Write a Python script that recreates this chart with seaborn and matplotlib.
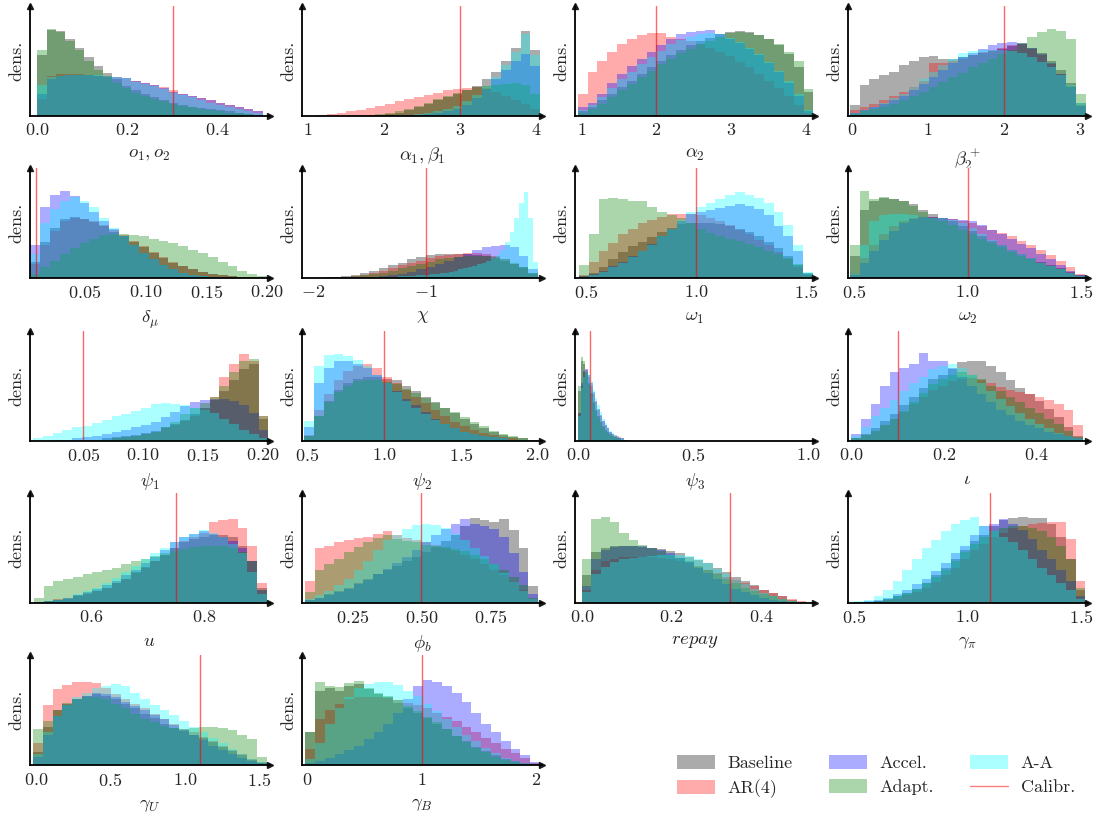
import numpy as np
import pandas as pd
import matplotlib
matplotlib.use("Agg")
import matplotlib.pyplot as plt
import seaborn as sns
from matplotlib.patches import Patch
from matplotlib.lines import Line2D

# ---------------- data (bar heights in % of panel height) ----------------
series_names = ["Baseline", "AR(4)", "Accel.", "Adapt.", "A-A"]
calib_name = "Calibr."

# o1, o2
o12_range = (0.0, 0.5)
o12_calib = 0.3
o12_base = [55,78,77,70,62,53,45,39,33,27,23,20,17,14,12,10,8,7,6,5,4,3,2,1]
o12_ar4 = [15,36,38,38,38,37,36,36,35,34,32,30,28,26,23,20,18,16,14,12,10,8,6,4]
o12_accel = [20,33,36,37,37,37,36,35,35,34,32,30,28,25,22,20,18,16,14,12,10,8,6,4]
o12_adapt = [60,79,76,68,60,50,42,36,30,25,21,18,15,13,11,9,8,6,5,4,3,3,2,1]
o12_aa = [28,35,36,37,37,37,37,36,35,34,31,29,27,24,21,19,17,14,12,10,8,6,4,3]
o12_ticks = ["0.0", "0.2", "0.4"]

# alpha1, beta1
a1_range = (1.0, 4.05)
a1_calib = 3.0
a1_base = [0,0,0,0,0,0,1,1,2,3,5,8,11,14,17,20,23,27,33,40,50,62,77,60]
a1_ar4 = [0,1,2,3,4,5,7,9,11,13,15,17,19,21,23,24,25,26,25,22,18,14,11,6]
a1_accel = [0,0,0,0,0,0,0,0,0,0,1,1,2,3,4,6,10,16,24,33,42,50,56,45]
a1_adapt = [0,0,0,0,0,1,1,2,3,4,6,9,12,15,18,21,23,26,27,28,29,30,28,20]
a1_aa = [0,0,0,0,0,0,0,0,0,1,1,2,3,4,6,9,13,19,26,35,46,58,74,55]
a1_ticks = ["1", "2", "3", "4"]

# alpha2
a2_range = (0.95, 4.1)
a2_calib = 2.0
a2_base = [4,8,14,20,26,32,38,44,50,55,60,64,68,71,74,76,77,76,73,70,64,56,44,22]
a2_ar4 = [20,40,50,58,65,70,73,75,75,72,70,68,65,62,58,54,49,44,38,32,25,18,10,3]
a2_accel = [8,12,20,30,38,45,52,58,64,70,74,76,77,78,74,70,66,61,55,48,40,30,18,4]
a2_adapt = [3,6,11,17,23,29,35,41,47,52,57,61,65,68,72,75,76,75,73,70,65,58,50,24]
a2_aa = [5,10,17,25,33,40,47,53,59,65,69,72,74,75,74,71,67,62,56,49,41,32,20,5]
a2_ticks = ["1", "2", "3", "4"]

# beta2+
b2_range = (-0.03, 3.08)
b2_calib = 2.0
b2_base = [10,28,33,37,40,46,50,53,54,52,52,53,55,57,59,61,63,65,62,57,50,42,30,12]
b2_ar4 = [5,8,11,14,18,22,26,32,48,48,50,52,55,58,60,62,64,65,61,55,47,38,27,10]
b2_accel = [3,5,8,11,14,18,23,29,35,42,48,53,57,61,64,66,67,66,62,56,48,38,26,9]
b2_adapt = [2,4,6,8,11,14,18,22,26,31,35,39,44,48,52,56,60,66,72,76,79,77,70,20]
b2_aa = [3,5,8,12,16,20,26,33,40,46,52,57,59,60,60,60,59,57,53,49,44,37,28,12]
b2_ticks = ["0", "1", "2", "3"]

# delta_mu
dm_range = (0.005, 0.2)
dm_calib = 0.01
dm_base = [15,33,46,54,56,54,51,47,42,38,33,28,23,18,14,11,8,6,4,3,2,1,1,0]
dm_ar4 = [13,30,43,52,55,54,52,48,44,39,34,29,24,19,15,11,8,6,4,3,2,1,1,0]
dm_accel = [30,65,76,79,75,68,60,52,45,38,30,23,17,12,8,5,3,2,1,1,0,0,0,0]
dm_adapt = [4,10,16,22,27,32,36,39,40,40,39,38,36,34,32,29,26,23,19,15,11,7,4,2]
dm_aa = [22,50,63,70,74,70,65,55,46,38,30,23,17,12,8,5,3,2,1,1,0,0,0,0]
dm_ticks = ["0.05", "0.10", "0.15", "0.20"]

# chi
chi_range = (-2.0, 0.0)
chi_calib = -1.0
chi_base = [0,1,1,2,3,5,7,9,12,14,17,19,21,22,22,22,22,21,20,18,16,13,10,5]
chi_ar4 = [0,0,1,1,2,3,5,7,9,12,14,16,18,20,21,22,23,23,22,20,17,13,9,4]
chi_accel = [0,0,0,0,0,1,1,2,3,4,6,8,10,13,16,19,22,26,28,29,30,28,20,8]
chi_adapt = [0,0,1,1,2,3,4,5,7,9,11,13,15,17,18,19,20,20,20,19,17,14,10,5]
chi_aa = [0,0,0,0,0,0,0,0,0,0,0,0,1,1,1,1,1,1,2,2,2,2,3,3,
          3,4,4,5,5,6,7,8,9,10,11,13,14,16,18,21,26,33,42,55,68,78,55,15]
chi_ticks = ["-2", "-1"]

# omega1
w1_range = (0.47, 1.53)
w1_calib = 1.0
w1_base = [2,5,10,17,24,29,33,37,42,46,49,50,50,50,49,47,45,42,38,33,27,20,12,4]
w1_ar4 = [3,15,25,32,40,45,50,53,56,58,58,58,57,55,52,48,44,40,35,30,24,17,10,3]
w1_accel = [2,4,7,11,15,20,25,31,38,45,52,58,60,62,64,66,67,66,63,57,47,38,25,5]
w1_adapt = [12,40,72,73,72,70,70,65,60,57,55,50,45,41,38,36,34,31,28,25,22,18,13,5]
w1_aa = [1,3,6,10,14,19,25,30,38,45,53,60,65,68,72,76,78,76,73,68,60,48,30,6]
w1_ticks = ["0.5", "1.0", "1.5"]

# omega2
w2_range = (0.48, 1.52)
w2_calib = 1.0
w2_base = [20,62,70,73,72,70,67,62,58,55,52,47,43,38,34,30,26,22,18,15,12,9,6,3]
w2_ar4 = [5,18,30,40,47,52,55,56,56,55,54,52,50,47,44,41,38,34,30,26,21,16,10,4]
w2_accel = [3,14,25,35,43,50,54,56,56,55,54,53,52,48,44,40,36,31,27,22,17,12,7,3]
w2_adapt = [30,79,72,74,72,70,66,60,55,52,48,44,40,36,32,28,24,20,17,14,11,8,5,2]
w2_aa = [5,30,52,57,58,58,57,56,55,55,53,50,46,40,35,30,26,22,18,14,11,8,5,2]
w2_ticks = ["0.5", "1.0", "1.5"]

# psi1
p1_range = (0.008, 0.205)
p1_calib = 0.05
p1_base = [0,0,0,0,0,1,1,2,3,4,5,7,9,12,15,19,24,30,37,45,55,65,70,20]
p1_ar4 = [0,0,0,0,0,1,1,1,2,3,4,6,8,11,14,18,22,28,40,58,70,79,72,22]
p1_accel = [0,0,1,1,2,3,4,6,8,10,12,14,17,21,26,31,35,37,38,38,36,32,25,10]
p1_adapt = [0,0,0,0,0,0,1,1,2,3,4,6,8,12,17,24,30,34,40,50,62,72,74,22]
p1_aa = [2,4,7,10,12,13,16,19,22,24,27,30,33,34,33,32,30,28,25,20,15,10,6,2]
p1_ticks = ["0.05", "0.10", "0.15", "0.20"]

# psi2
p2_range = (0.48, 2.0)
p2_calib = 1.0
p2_base = [4,22,36,46,52,56,58,58,56,55,50,45,40,35,30,25,20,15,11,8,5,3,2,1]
p2_ar4 = [5,28,42,55,63,68,70,66,58,52,46,40,34,28,22,17,13,10,7,5,3,2,1,0]
p2_accel = [12,52,66,72,72,70,66,60,52,45,38,32,26,20,15,11,8,6,4,3,2,1,1,0]
p2_adapt = [4,22,35,44,50,54,55,55,53,51,47,43,39,34,30,26,21,17,13,9,6,4,2,1]
p2_aa = [18,68,78,79,77,73,68,60,52,44,36,30,24,19,15,11,8,6,4,3,2,1,1,0]
p2_ticks = ["0.5", "1.0", "1.5", "2.0"]

# psi3
p3_range = (0.0, 0.25)
p3_calib = 0.05
p3_base = [45,72,70,62,52,43,35,28,22,17,13,10,8,6,4,3,2,2,1,1,0,0,0,0]
p3_ar4 = [25,50,62,64,58,50,42,35,28,22,18,14,11,8,6,5,4,3,2,1,1,1,0,0]
p3_accel = [25,52,63,65,60,52,44,36,29,23,18,14,11,8,6,4,3,2,2,1,1,0,0,0]
p3_adapt = [50,76,72,62,51,42,34,27,21,16,12,9,7,5,4,3,2,1,1,1,0,0,0,0]
p3_aa = [22,48,58,62,60,54,46,39,32,26,20,16,12,9,7,5,3,2,2,1,1,0,0,0]
p3_ticks = ["0.0", "0.5", "1.0"]

# iota
io_range = (0.0, 0.5)
io_calib = 0.1
io_base = [2,6,11,18,24,32,40,48,56,60,65,71,72,72,68,62,55,48,42,36,29,21,12,4]
io_ar4 = [2,5,9,14,20,26,33,40,46,50,54,56,57,55,52,49,46,44,42,40,37,33,28,14]
io_accel = [6,20,33,50,62,66,70,80,72,72,66,58,50,42,35,28,23,18,14,11,8,6,4,2]
io_adapt = [2,5,9,14,20,27,35,43,51,56,60,62,60,56,50,45,40,35,30,25,20,15,9,3]
io_aa = [4,12,22,30,37,45,52,58,65,68,70,66,60,52,45,38,31,25,20,15,11,7,4,2]
io_ticks = ["0.0", "0.2", "0.4"]

# u
u_range = (0.5, 0.91)
u_calib = 0.75
u_base = [1,2,3,4,6,8,11,14,18,22,28,33,38,44,50,55,58,60,62,62,60,52,38,14]
u_ar4 = [1,2,4,5,7,9,11,14,18,22,27,32,38,44,50,56,60,64,74,75,76,68,52,18]
u_accel = [1,2,3,5,7,10,13,16,20,25,30,36,42,48,55,60,63,65,63,60,56,50,38,12]
u_adapt = [5,15,20,22,24,26,28,30,32,35,38,40,43,45,47,49,51,52,52,52,50,46,38,12]
u_aa = [1,2,3,5,8,11,14,18,23,28,34,40,45,50,55,60,63,66,64,60,54,45,28,8]
u_ticks = ["0.6", "0.8"]

# phi_b
pb_range = (0.08, 0.92)
pb_calib = 0.5
pb_base = [3,5,8,11,14,18,22,26,30,34,38,42,46,51,56,62,70,77,75,74,76,66,50,15]
pb_ar4 = [20,50,52,55,57,59,60,63,65,62,59,57,55,53,50,47,44,40,35,30,25,19,12,4]
pb_accel = [3,5,7,10,13,17,21,26,31,36,42,48,55,62,67,72,76,72,70,67,60,45,28,8]
pb_adapt = [10,30,35,40,46,51,55,59,62,58,56,55,53,52,51,49,47,44,40,35,30,24,16,5]
pb_aa = [4,7,11,16,22,30,38,48,57,62,67,71,72,71,68,63,57,50,43,35,27,19,11,4]
pb_ticks = ["0.25", "0.50", "0.75"]

# repay
rp_range = (0.0, 0.5)
rp_calib = 0.33
rp_base = [25,46,50,52,52,52,51,50,49,47,45,42,39,36,32,28,24,20,16,12,9,6,3,1]
rp_ar4 = [12,30,38,40,42,42,42,42,41,40,38,36,33,30,27,24,21,18,15,12,9,6,4,2]
rp_accel = [15,40,48,51,52,52,52,50,48,45,41,37,32,27,22,17,13,10,7,5,3,2,1,0]
rp_adapt = [40,76,78,74,64,57,53,50,47,44,41,38,34,30,26,22,18,14,11,8,6,4,2,1]
rp_aa = [10,26,33,37,40,41,42,43,44,44,44,43,40,36,31,26,21,17,13,9,6,4,2,1]
rp_ticks = ["0.0", "0.2", "0.4"]

# gamma_pi
gp_range = (0.5, 1.52)
gp_calib = 1.1
gp_base = [1,1,2,4,6,9,13,18,25,32,40,48,56,62,70,75,77,78,77,77,72,60,40,12]
gp_ar4 = [1,1,2,3,4,7,10,14,19,25,32,40,48,54,60,64,68,70,72,73,74,74,58,20]
gp_accel = [1,2,3,5,8,12,17,22,29,36,45,52,62,70,72,76,72,66,58,48,40,30,20,6]
gp_adapt = [1,1,2,4,6,9,13,18,24,30,38,46,54,60,65,68,70,70,68,65,60,52,40,14]
gp_aa = [2,3,6,12,20,30,40,50,57,65,72,75,78,70,65,60,55,48,40,32,25,18,12,4]
gp_ticks = ["0.5", "1.0", "1.5"]

# gamma_U
gu_range = (-0.02, 1.55)
gu_calib = 1.1
gu_base = [12,35,50,56,60,63,65,63,60,56,52,47,43,38,34,31,28,25,21,17,13,9,5,2]
gu_ar4 = [20,55,69,73,76,76,75,70,65,60,56,52,47,42,38,33,30,26,22,18,14,10,6,3]
gu_accel = [8,28,45,55,60,63,66,65,62,58,54,50,46,42,37,32,28,23,18,14,10,7,4,2]
gu_adapt = [33,40,50,57,60,62,62,60,56,52,47,42,39,36,34,33,34,35,35,34,32,28,24,8]
gu_aa = [10,30,45,55,62,66,70,72,74,72,66,60,55,50,46,40,35,30,25,20,15,10,6,3]
gu_ticks = ["0.0", "0.5", "1.0", "1.5"]

# gamma_B
gb_range = (-0.02, 2.03)
gb_calib = 1.0
gb_base = [30,68,70,68,72,74,69,65,62,57,52,48,43,38,33,27,22,17,13,9,6,4,2,1]
gb_ar4 = [15,42,50,56,60,62,62,62,61,59,57,55,52,48,44,40,35,30,25,20,15,11,7,2]
gb_accel = [2,4,7,10,14,18,24,30,38,48,60,72,78,76,72,66,58,48,38,30,22,15,9,3]
gb_adapt = [30,76,72,71,75,77,70,66,63,59,54,49,44,39,33,27,21,16,12,8,5,3,1,0]
gb_aa = [6,20,38,52,62,70,74,76,76,73,68,63,56,49,42,35,28,22,16,11,7,4,2,1]
gb_ticks = ["0", "1", "2"]

# ---------------- panel table built from the arrays ----------------
panels = [
    (r"$o_1, o_2$", o12_range, o12_calib, [o12_base, o12_ar4, o12_accel, o12_adapt, o12_aa], o12_ticks),
    (r"$\alpha_1, \beta_1$", a1_range, a1_calib, [a1_base, a1_ar4, a1_accel, a1_adapt, a1_aa], a1_ticks),
    (r"$\alpha_2$", a2_range, a2_calib, [a2_base, a2_ar4, a2_accel, a2_adapt, a2_aa], a2_ticks),
    (r"$\beta_2^+$", b2_range, b2_calib, [b2_base, b2_ar4, b2_accel, b2_adapt, b2_aa], b2_ticks),
    (r"$\delta_\mu$", dm_range, dm_calib, [dm_base, dm_ar4, dm_accel, dm_adapt, dm_aa], dm_ticks),
    (r"$\chi$", chi_range, chi_calib, [chi_base, chi_ar4, chi_accel, chi_adapt, chi_aa], chi_ticks),
    (r"$\omega_1$", w1_range, w1_calib, [w1_base, w1_ar4, w1_accel, w1_adapt, w1_aa], w1_ticks),
    (r"$\omega_2$", w2_range, w2_calib, [w2_base, w2_ar4, w2_accel, w2_adapt, w2_aa], w2_ticks),
    (r"$\psi_1$", p1_range, p1_calib, [p1_base, p1_ar4, p1_accel, p1_adapt, p1_aa], p1_ticks),
    (r"$\psi_2$", p2_range, p2_calib, [p2_base, p2_ar4, p2_accel, p2_adapt, p2_aa], p2_ticks),
    (r"$\psi_3$", p3_range, p3_calib, [p3_base, p3_ar4, p3_accel, p3_adapt, p3_aa], p3_ticks),
    (r"$\iota$", io_range, io_calib, [io_base, io_ar4, io_accel, io_adapt, io_aa], io_ticks),
    (r"$u$", u_range, u_calib, [u_base, u_ar4, u_accel, u_adapt, u_aa], u_ticks),
    (r"$\phi_b$", pb_range, pb_calib, [pb_base, pb_ar4, pb_accel, pb_adapt, pb_aa], pb_ticks),
    (r"$repay$", rp_range, rp_calib, [rp_base, rp_ar4, rp_accel, rp_adapt, rp_aa], rp_ticks),
    (r"$\gamma_\pi$", gp_range, gp_calib, [gp_base, gp_ar4, gp_accel, gp_adapt, gp_aa], gp_ticks),
    (r"$\gamma_U$", gu_range, gu_calib, [gu_base, gu_ar4, gu_accel, gu_adapt, gu_aa], gu_ticks),
    (r"$\gamma_B$", gb_range, gb_calib, [gb_base, gb_ar4, gb_accel, gb_adapt, gb_aa], gb_ticks),
]

# ---------------- style / layout ----------------
series_colors = ["black", "red", "blue", "green", "cyan"]
bar_alpha = 0.33
xlims = [(-0.017, 0.515), (0.93, 4.08), (0.91, 4.12), (-0.06, 3.1),
         (0.0044, 0.202), (-2.1, 0.04), (0.45, 1.54), (0.47, 1.53),
         (0.005, 0.206), (0.465, 2.03), (-0.015, 1.03), (-0.008, 0.51),
         (0.492, 0.915), (0.07, 0.935), (-0.016, 0.52), (0.47, 1.53),
         (-0.045, 1.57), (-0.047, 2.05)]

sns.set_theme(style="white")
plt.rcParams.update({
    "font.family": "serif",
    "font.serif": ["cmr10"],
    "mathtext.fontset": "cm",
    "axes.formatter.use_mathtext": True,
    "axes.unicode_minus": True,
})

fig = plt.figure(figsize=(10.93, 8.16), dpi=100)
axes = fig.subplots(5, 4)
fig.subplots_adjust(left=0.027, right=0.995, top=0.993, bottom=0.062,
                    wspace=0.136, hspace=0.475)
axes[4, 2].remove()
axes[4, 3].remove()
axes_list = [a for a in axes.flat][:18]

for ax, (label, rng, calib, series, ticks), xl in zip(axes_list, panels, xlims):
    lo, hi = rng
    for vals, name, col in zip(series, series_names, series_colors):
        vals = np.asarray(vals, dtype=float)
        edges = np.linspace(lo, hi, len(vals) + 1)
        centers = 0.5 * (edges[:-1] + edges[1:])
        df = pd.DataFrame({"x": centers, "w": vals})
        sns.histplot(data=df, x="x", weights="w", bins=len(vals),
                     binrange=(lo, hi), color=col, alpha=bar_alpha,
                     linewidth=0, stat="count", ax=ax)
    ax.axvline(calib, color="red", lw=1.0, alpha=0.6)
    ax.set_xlim(*xl)
    ax.set_ylim(0, 100)
    tick_vals = [float(t) for t in ticks]
    ax.set_xticks(tick_vals, [f"${t}$" for t in ticks])
    ax.set_yticks([])
    ax.tick_params(axis="x", length=0, pad=4.5, labelsize=13)
    ax.set_xlabel(label, fontsize=13.5, labelpad=5)
    ax.set_ylabel("dens.", fontsize=13, labelpad=4)
    for s in ["top", "right"]:
        ax.spines[s].set_visible(False)
    for s in ["left", "bottom"]:
        ax.spines[s].set_color("black")
        ax.spines[s].set_linewidth(1.3)
    ax.plot(1, 0, ">k", transform=ax.transAxes, clip_on=False, ms=5)
    ax.plot(0, 1, "^k", transform=ax.transAxes, clip_on=False, ms=5)

handles = [Patch(facecolor=c, alpha=bar_alpha, linewidth=0) for c in series_colors]
handles.append(Line2D([], [], color="red", lw=1.0, alpha=0.5))
labels = series_names + [calib_name]
fig.legend(handles, labels, ncol=3, loc="center", bbox_to_anchor=(0.8016, 0.0484),
           frameon=False, fontsize=13, handlelength=2.1, handleheight=0.8,
           handletextpad=0.7, columnspacing=2.0, labelspacing=0.45)

fig.savefig("out.png", dpi=100)
